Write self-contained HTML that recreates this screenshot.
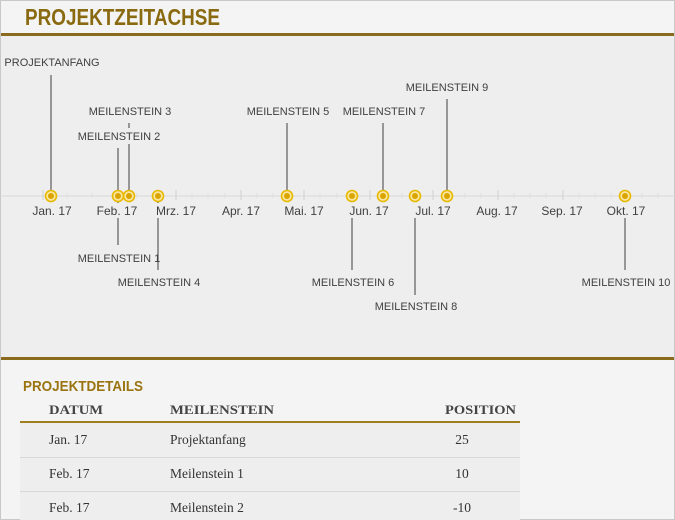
<!DOCTYPE html>
<html><head><meta charset="utf-8"><style>
html,body{margin:0;padding:0;width:675px;height:520px;overflow:hidden;background:#f4f4f4}
svg{display:block}
.s{font-family:"Liberation Sans",sans-serif;fill:#404040}
.t{font-family:"Liberation Serif",serif;fill:#333}
</style></head><body>
<svg width="675" height="520" viewBox="0 0 675 520" xmlns="http://www.w3.org/2000/svg">
<rect x="0" y="0" width="675" height="520" fill="#f4f4f4"/>
<rect x="0" y="35" width="675" height="323" fill="#eeeeee"/>
<rect x="0" y="33" width="675" height="3" fill="#8a6a1c"/>
<rect x="0" y="357" width="675" height="3" fill="#8a6a1c"/>
<rect x="0.5" y="0.5" width="674" height="519" fill="none" stroke="#c8c8c8"/>
<text x="25" y="25" font-family="Liberation Sans,sans-serif" font-weight="bold" font-size="23" fill="#8a6a10" textLength="195" lengthAdjust="spacingAndGlyphs">PROJEKTZEITACHSE</text>

<line x1="0" y1="196" x2="675" y2="196" stroke="#d8d8d8" stroke-width="1"/>
<g stroke="#d0d0d0" stroke-width="1">
<line x1="43" y1="190" x2="43" y2="200"/><line x1="117" y1="190" x2="117" y2="200"/><line x1="176" y1="190" x2="176" y2="200"/><line x1="241" y1="190" x2="241" y2="200"/><line x1="304" y1="190" x2="304" y2="200"/><line x1="370" y1="190" x2="370" y2="200"/><line x1="433" y1="190" x2="433" y2="200"/><line x1="498" y1="190" x2="498" y2="200"/><line x1="563" y1="190" x2="563" y2="200"/><line x1="626" y1="190" x2="626" y2="200"/>
</g>
<g stroke="#dedede" stroke-width="1">
<line x1="67" y1="193" x2="67" y2="198"/><line x1="92" y1="193" x2="92" y2="198"/><line x1="137" y1="193" x2="137" y2="198"/><line x1="157" y1="193" x2="157" y2="198"/><line x1="192" y1="193" x2="192" y2="198"/><line x1="208" y1="193" x2="208" y2="198"/><line x1="225" y1="193" x2="225" y2="198"/><line x1="257" y1="193" x2="257" y2="198"/><line x1="273" y1="193" x2="273" y2="198"/><line x1="320" y1="193" x2="320" y2="198"/><line x1="337" y1="193" x2="337" y2="198"/><line x1="353" y1="193" x2="353" y2="198"/><line x1="386" y1="193" x2="386" y2="198"/><line x1="402" y1="193" x2="402" y2="198"/><line x1="418" y1="193" x2="418" y2="198"/><line x1="449" y1="193" x2="449" y2="198"/><line x1="465" y1="193" x2="465" y2="198"/><line x1="481" y1="193" x2="481" y2="198"/><line x1="514" y1="193" x2="514" y2="198"/><line x1="530" y1="193" x2="530" y2="198"/><line x1="546" y1="193" x2="546" y2="198"/><line x1="579" y1="193" x2="579" y2="198"/><line x1="595" y1="193" x2="595" y2="198"/><line x1="611" y1="193" x2="611" y2="198"/><line x1="642" y1="193" x2="642" y2="198"/><line x1="658" y1="193" x2="658" y2="198"/>
</g>

<g stroke="#666" stroke-width="1.3">
<line x1="51" y1="75" x2="51" y2="196"/>
<line x1="129" y1="123" x2="129" y2="128"/><line x1="129" y1="144" x2="129" y2="196"/>
<line x1="118" y1="148" x2="118" y2="203"/>
<line x1="287" y1="123" x2="287" y2="196"/>
<line x1="383" y1="123" x2="383" y2="196"/>
<line x1="447" y1="99" x2="447" y2="196"/>
<line x1="118" y1="218" x2="118" y2="245"/>
<line x1="158" y1="200" x2="158" y2="203"/><line x1="158" y1="218" x2="158" y2="270"/>
<line x1="352" y1="218" x2="352" y2="270"/>
<line x1="415" y1="218" x2="415" y2="295"/>
<line x1="625" y1="218" x2="625" y2="270"/>
</g>

<g fill="#f8e7a0" stroke="#e8b800" stroke-width="1.6">
<circle cx="51" cy="196" r="5.5"/><circle cx="118" cy="196" r="5.5"/><circle cx="129" cy="196" r="5.5"/><circle cx="158" cy="196" r="5.5"/><circle cx="287" cy="196" r="5.5"/><circle cx="352" cy="196" r="5.5"/><circle cx="383" cy="196" r="5.5"/><circle cx="415" cy="196" r="5.5"/><circle cx="447" cy="196" r="5.5"/><circle cx="625" cy="196" r="5.5"/>
</g>
<g fill="#dba400">
<circle cx="51" cy="196" r="3"/><circle cx="118" cy="196" r="3"/><circle cx="129" cy="196" r="3"/><circle cx="158" cy="196" r="3"/><circle cx="287" cy="196" r="3"/><circle cx="352" cy="196" r="3"/><circle cx="383" cy="196" r="3"/><circle cx="415" cy="196" r="3"/><circle cx="447" cy="196" r="3"/><circle cx="625" cy="196" r="3"/>
</g>

<g class="s" font-size="12" text-anchor="middle">
<text x="52" y="215">Jan. 17</text>
<text x="117" y="215">Feb. 17</text>
<text x="176" y="215">Mrz. 17</text>
<text x="241" y="215">Apr. 17</text>
<text x="304" y="215">Mai. 17</text>
<text x="369" y="215">Jun. 17</text>
<text x="433" y="215">Jul. 17</text>
<text x="497" y="215">Aug. 17</text>
<text x="562" y="215">Sep. 17</text>
<text x="626" y="215">Okt. 17</text>
</g>

<g class="s" font-size="11" text-anchor="middle">
<text x="52" y="66">PROJEKTANFANG</text>
<text x="130" y="115">MEILENSTEIN 3</text>
<text x="119" y="140">MEILENSTEIN 2</text>
<text x="288" y="115">MEILENSTEIN 5</text>
<text x="384" y="115">MEILENSTEIN 7</text>
<text x="447" y="91">MEILENSTEIN 9</text>
<text x="119" y="262">MEILENSTEIN 1</text>
<text x="159" y="286">MEILENSTEIN 4</text>
<text x="353" y="286">MEILENSTEIN 6</text>
<text x="416" y="310">MEILENSTEIN 8</text>
<text x="626" y="286">MEILENSTEIN 10</text>
</g>

<text x="23" y="391" font-family="Liberation Sans,sans-serif" font-weight="bold" font-size="15" fill="#9a7410" textLength="120" lengthAdjust="spacingAndGlyphs">PROJEKTDETAILS</text>
<g class="t" font-size="13" font-weight="bold" style="fill:#444">
<text x="49" y="414" textLength="54" lengthAdjust="spacingAndGlyphs">DATUM</text>
<text x="170" y="414" textLength="104" lengthAdjust="spacingAndGlyphs">MEILENSTEIN</text>
<text x="445" y="414" textLength="71" lengthAdjust="spacingAndGlyphs">POSITION</text>
</g>
<rect x="20" y="423" width="500" height="97" fill="#eeeeee"/>
<rect x="20" y="421" width="500" height="2" fill="#a07e20"/>
<line x1="20" y1="457.5" x2="520" y2="457.5" stroke="#d8d8d8"/>
<line x1="20" y1="491.5" x2="520" y2="491.5" stroke="#d8d8d8"/>
<g class="t" font-size="13.5">
<text x="49" y="444">Jan. 17</text><text x="170" y="444">Projektanfang</text><text x="462" y="444" text-anchor="middle">25</text>
<text x="49" y="478">Feb. 17</text><text x="170" y="478">Meilenstein 1</text><text x="462" y="478" text-anchor="middle">10</text>
<text x="49" y="512">Feb. 17</text><text x="170" y="512">Meilenstein 2</text><text x="462" y="512" text-anchor="middle">-10</text>
</g>
</svg>
</body></html>
